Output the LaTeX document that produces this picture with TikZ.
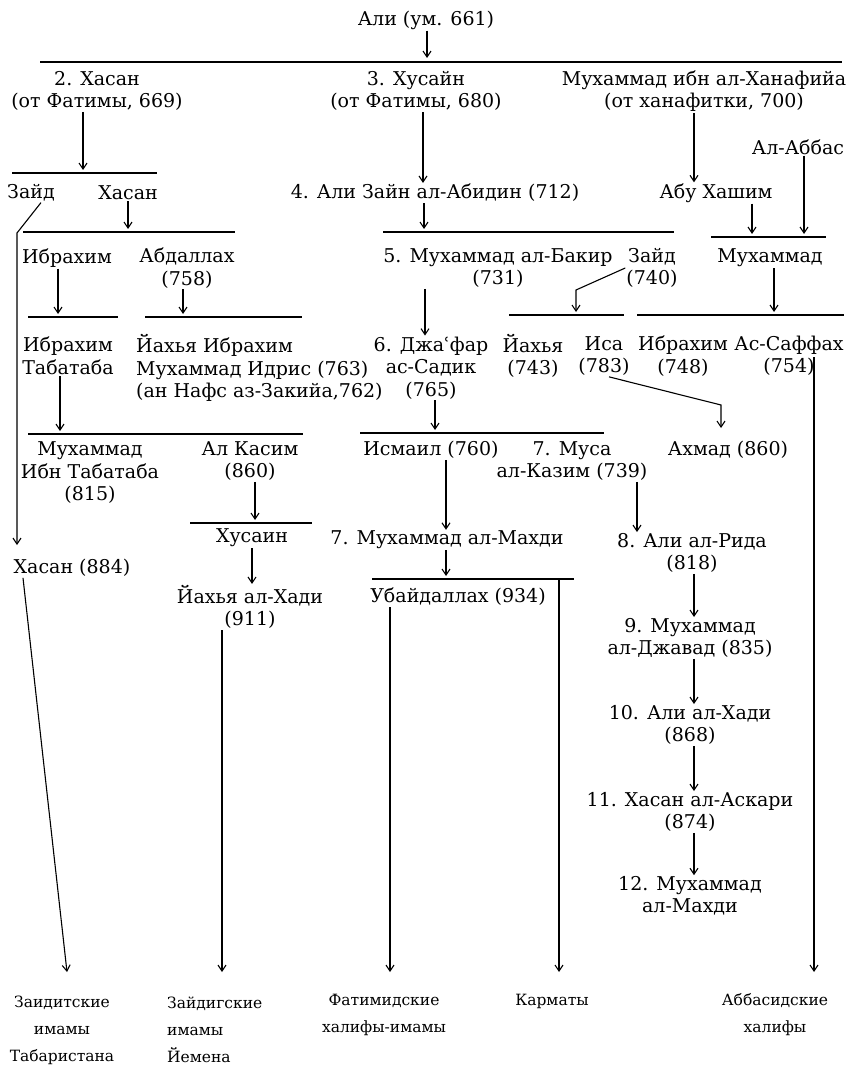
\documentclass[tikz,border=0pt]{standalone}
\usepackage{fontspec}
\setmainfont{DejaVu Serif}
\usepackage{tikz}
\usetikzlibrary{arrows.meta}

\begin{document}
\begin{tikzpicture}[x=1pt, y=-1pt,
    person/.style={inner sep=1pt, align=center, font=\fontsize{19}{22.5}\selectfont},
    dynasty/.style={inner sep=1pt, align=center, font=\fontsize{15.5}{27}\selectfont},
    arr/.style={line width=1.1pt, -{Straight Barb[length=6pt,width=8pt]}},
    bar/.style={line width=1.3pt}]
    \useasboundingbox (0,0) rectangle (848,1067);

    % persons
    \node[person] (ali) at (426,20) {Али (ум. 661)};
    \node[person] (hasanII) at (97,91) {2. Хасан\\(от Фатимы, 669)};
    \node[person] (husayn) at (416,91) {3. Хусайн\\(от Фатимы, 680)};
    \node[person] (hanaf) at (704,91) {Мухаммад ибн ал-Ханафийа\\(от ханафитки, 700)};
    \node[person] (abbas) at (798,147) {Ал-Аббас};
    \node[person] (zaydL) at (31,193) {Зайд};
    \node[person] (hasanL) at (128,193) {Хасан};
    \node[person] (alizayn) at (435,193) {4. Али Зайн ал-Абидин (712)};
    \node[person] (abuhashim) at (716,193) {Абу Хашим};
    \node[person] (ibrahimL) at (67,258) {Ибрахим};
    \node[person] (abdallah) at (187,268) {Абдаллах\\(758)};
    \node[person] (baqir) at (498,268) {5. Мухаммад ал-Бакир\\(731)};
    \node[person] (zaydB) at (652,268) {Зайд\\(740)};
    \node[person] (muhA) at (770,258) {Мухаммад};
    \node[person] (ibrtab) at (68,356) {Ибрахим\\Табатаба};
    \node[person, align=left, anchor=west] (idris) at (135,368) {Йахья Ибрахим\\Мухаммад Идрис (763)\\(ан Нафс аз-Закийа,762)};
    \node[person] (jafar) at (431,368) {6. Джаʿфар\\ас-Садик\\(765)};
    \node[person] (yahya) at (533,356) {Йахья\\(743)};
    \node[person] (isa) at (604,356) {Иса\\(783)};
    \node[person] (ibrahim) at (683,356) {Ибрахим\\(748)};
    \node[person] (saffah) at (789,356) {Ас-Саффах\\(754)};
    \node[person] (muhtab) at (90,473) {Мухаммад\\Ибн Табатаба\\(815)};
    \node[person] (qasim) at (250,461) {Ал Касим\\(860)};
    \node[person] (ismail) at (431,450) {Исмаил (760)};
    \node[person] (musa) at (572,461) {7. Муса\\ал-Казим (739)};
    \node[person] (ahmad) at (728,450) {Ахмад (860)};
    \node[person] (husain) at (252,538) {Хусаин};
    \node[person] (mahdiVII) at (447,540) {7. Мухаммад ал-Махди};
    \node[person] (rida) at (692,553) {8. Али ал-Рида\\(818)};
    \node[person] (hasanT) at (72,568) {Хасан (884)};
    \node[person] (ubayd) at (458,597) {Убайдаллах (934)};
    \node[person] (hadiY) at (250,607) {Йахья ал-Хади\\(911)};
    \node[person] (javad) at (690,638) {9. Мухаммад\\ал-Джавад (835)};
    \node[person] (hadiX) at (690,725) {10. Али ал-Хади\\(868)};
    \node[person] (askari) at (690,812) {11. Хасан ал-Аскари\\(874)};
    \node[person] (mahdiXII) at (690,896) {12. Мухаммад\\ал-Махди};

    % dynasties
    \node[dynasty] (tabaristan) at (62,1030) {Заидитские\\имамы\\Табаристана};
    \node[dynasty, align=left, anchor=west] (yemen) at (166,1030) {Зайдигские\\имамы\\Йемена};
    \node[dynasty] (fatimid) at (384,1015) {Фатимидские\\халифы-имамы};
    \node[dynasty] (karmaty) at (552,1001) {Карматы};
    \node[dynasty] (abbasid) at (775,1015) {Аббасидские\\халифы};

    % family bars
    \draw[bar] (40,62) -- (842,62);
    \draw[bar] (12,173) -- (157,173);
    \draw[bar] (23,232) -- (235,232);
    \draw[bar] (383,232) -- (674,232);
    \draw[bar] (711,237) -- (826,237);
    \draw[bar] (28,317) -- (118,317);
    \draw[bar] (145,317) -- (302,317);
    \draw[bar] (509,315) -- (624,315);
    \draw[bar] (637,315) -- (844,315);
    \draw[bar] (28,434) -- (303,434);
    \draw[bar] (360,433) -- (604,433);
    \draw[bar] (190,523) -- (312,523);
    \draw[bar] (372,579) -- (574,579);

    % arrow ends
    \coordinate (aliT) at (427,58);
    \coordinate (hasanIIT) at (83,170);
    \coordinate (husaynX) at (423,0);
    \coordinate (hanafX) at (694,0);
    \coordinate (abbasT) at (804,234);
    \coordinate (abuT) at (752,234);
    \coordinate (hasanLT) at (128,229);
    \coordinate (alizaynT) at (424,229);
    \coordinate (ibrahimLT) at (58,314);
    \coordinate (abdallahT) at (183,314);
    \coordinate (muhAT) at (774,312);
    \coordinate (baqirX) at (425,0);
    \coordinate (zaydBK) at (576,290);
    \coordinate (zaydBT) at (576,312);
    \coordinate (ibrtabT) at (60,431);
    \coordinate (jafarT) at (435,430);
    \coordinate (isaK) at (721,405);
    \coordinate (isaT) at (721,428);
    \coordinate (qasimT) at (255,520);
    \coordinate (husainX) at (252,0);
    \coordinate (ismailX) at (446,0);
    \coordinate (musaX) at (637,0);
    \coordinate (mahdiT) at (446,576);
    \coordinate (zaydLK) at (17,233);
    \coordinate (zaydLT) at (17,545);
    \coordinate (ridaX) at (694,0);
    \coordinate (tabT) at (67,972);
    \coordinate (yemenT) at (222,972);
    \coordinate (fatimidT) at (390,972);
    \coordinate (karmatyS) at (559,579);
    \coordinate (karmatyT) at (559,972);
    \coordinate (abbasidS) at (814,357);
    \coordinate (abbasidT) at (814,972);

    % descent
    \draw[arr] (ali.south -| aliT) -- (aliT);
    \draw[arr] (hasanII.south -| hasanIIT) -- (hasanIIT);
    \draw[arr] (husayn.south -| husaynX) -- (alizayn.north -| husaynX);
    \draw[arr] (hanaf.south -| hanafX) -- (abuhashim.north -| hanafX);
    \draw[arr] (abbas.south -| abbasT) -- (abbasT);
    \draw[arr] (abuhashim.south -| abuT) -- (abuT);
    \draw[arr] (hasanL.south) -- (hasanLT);
    \draw[arr] (alizayn.south -| alizaynT) -- (alizaynT);
    \draw[arr] (ibrahimL.south -| ibrahimLT) -- (ibrahimLT);
    \draw[arr] (abdallah.south -| abdallahT) -- (abdallahT);
    \draw[arr] (muhA.south -| muhAT) -- (muhAT);
    \draw[arr] (baqir.south -| baqirX) -- (jafar.north -| baqirX);
    \draw[arr] (zaydB.west) -- (zaydBK) -- (zaydBT);
    \draw[arr] (ibrtab.south -| ibrtabT) -- (ibrtabT);
    \draw[arr] (jafar.south -| jafarT) -- (jafarT);
    \draw[arr] ([xshift=5pt]isa.south) -- (isaK) -- (isaT);
    \draw[arr] (qasim.south -| qasimT) -- (qasimT);
    \draw[arr] (husain.south -| husainX) -- (hadiY.north -| husainX);
    \draw[arr] (ismail.south -| ismailX) -- (mahdiVII.north -| ismailX);
    \draw[arr] (musa.south -| musaX) -- (rida.north -| musaX);
    \draw[arr] (mahdiVII.south -| mahdiT) -- (mahdiT);
    \draw[arr] ([xshift=10pt]zaydL.south) -- (zaydLK) -- (zaydLT);
    \draw[arr] (rida.south -| ridaX) -- (javad.north -| ridaX);
    \draw[arr] (javad.south -| ridaX) -- (hadiX.north -| ridaX);
    \draw[arr] (hadiX.south -| ridaX) -- (askari.north -| ridaX);
    \draw[arr] (askari.south -| ridaX) -- (mahdiXII.north -| ridaX);

    % to the dynasties
    \draw[arr] ([xshift=-49pt]hasanT.south) -- (tabT);
    \draw[arr] (hadiY.south -| yemenT) -- (yemenT);
    \draw[arr] (ubayd.south -| fatimidT) -- (fatimidT);
    \draw[arr] (karmatyS) -- (karmatyT);
    \draw[arr] (abbasidS) -- (abbasidT);
\end{tikzpicture}
\end{document}
